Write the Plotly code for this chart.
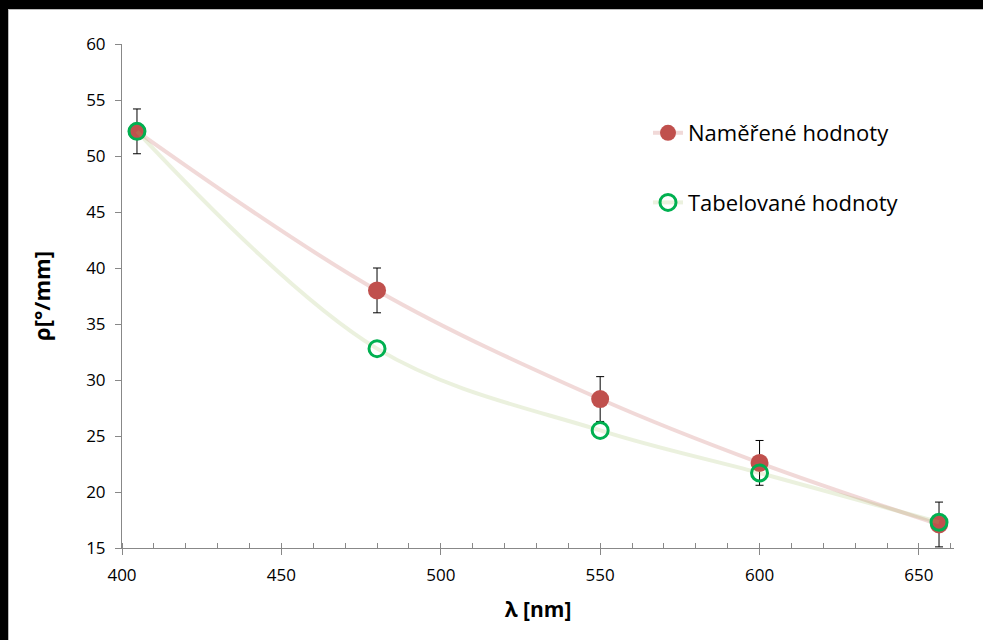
import plotly.graph_objects as go

wavelength = [404.7, 480.0, 550.0, 600.0, 656.3]
measured = [52.2, 38.0, 28.3, 22.6, 17.1]
measured_err = [2.0, 2.0, 2.0, 2.0, 2.0]
tabulated = [52.2, 32.8, 25.5, 21.7, 17.3]

x_ticks = [400, 450, 500, 550, 600, 650]
y_ticks = [15, 20, 25, 30, 35, 40, 45, 50, 55, 60]

FONT = "Open Sans"
W, H = 983, 640
ML, MR, MT, MB = 122, 29, 44, 92
PW, PH = W - ML - MR, H - MT - MB

def px_x(px):
    return (px - ML) / PW

def px_y(py):
    return (H - MB - py) / PH

fig = go.Figure()

fig.add_trace(go.Scatter(
    x=wavelength, y=measured, name="Naměřené hodnoty",
    mode="lines+markers", legendgroup="a",
    line=dict(shape="spline", smoothing=1.0, color="rgba(192,80,77,0.22)", width=4),
    marker=dict(size=18, color="#C0504D", line=dict(width=0)),
    error_y=dict(type="data", array=measured_err, visible=True,
                 color="black", thickness=1, width=4),
))
fig.add_trace(go.Scatter(
    x=wavelength, y=tabulated, name="Tabelované hodnoty",
    mode="lines+markers", legendgroup="b",
    line=dict(shape="spline", smoothing=1.0, color="rgba(155,187,89,0.2)", width=4),
    marker=dict(size=16, color="#00B050", symbol="circle-open",
                line=dict(width=3, color="#00B050")),
))

shapes = [
    dict(type="rect", xref="paper", yref="paper", x0=px_x(0), x1=px_x(W), y0=px_y(9), y1=px_y(0),
         fillcolor="black", line=dict(width=0), layer="above"),
    dict(type="rect", xref="paper", yref="paper", x0=px_x(0), x1=px_x(8), y0=px_y(H), y1=px_y(0),
         fillcolor="black", line=dict(width=0), layer="above"),
    dict(type="line", xref="paper", yref="paper", x0=px_x(8.5), x1=px_x(8.5), y0=px_y(H), y1=px_y(9),
         line=dict(color="#BBBBBB", width=1), layer="above"),
    dict(type="line", xref="paper", yref="paper", x0=px_x(8), x1=px_x(W), y0=px_y(9.5), y1=px_y(9.5),
         line=dict(color="#BBBBBB", width=1), layer="above"),
]

fig.update_layout(
    width=W, height=H,
    margin=dict(l=ML, r=MR, t=MT, b=MB),
    paper_bgcolor="white", plot_bgcolor="white",
    font=dict(family=FONT, color="black", size=17),
    showlegend=True,
    legend=dict(x=px_x(648), y=px_y(112), xanchor="left", yanchor="top",
                font=dict(size=22, family=FONT), bgcolor="rgba(0,0,0,0)",
                tracegroupgap=38, itemwidth=30),
    shapes=shapes,
    xaxis=dict(range=[400, 661], tickvals=x_ticks, ticks="outside", ticklen=6,
               tickcolor="#888888", showline=True, linecolor="#888888", linewidth=1,
               showgrid=False, zeroline=False, tickfont=dict(size=17),
               ticklabelstandoff=6,
               minor=dict(dtick=10, tick0=400, ticks="inside", ticklen=5, tickcolor="#888888"),
               title=dict(text="<b>λ [nm]</b>", font=dict(size=21), standoff=16)),
    yaxis=dict(range=[15, 60], tickvals=y_ticks, ticks="outside", ticklen=6,
               tickcolor="#888888", showline=True, linecolor="#888888", linewidth=1,
               showgrid=False, zeroline=False, tickfont=dict(size=17),
               ticklabelstandoff=6,
               title=dict(text="<b>ρ[°/mm]</b>", font=dict(size=22), standoff=29)),
)

fig.write_html(
    "out.html", config={"displayModeBar": False},
    post_script=("var s=document.createElement('style');"
                 "s.textContent='html,body{margin:0;padding:0;overflow:hidden;background:white;"
                 "scrollbar-width:none;}::-webkit-scrollbar{display:none;width:0;height:0;}';"
                 "document.head.appendChild(s);"),
)
